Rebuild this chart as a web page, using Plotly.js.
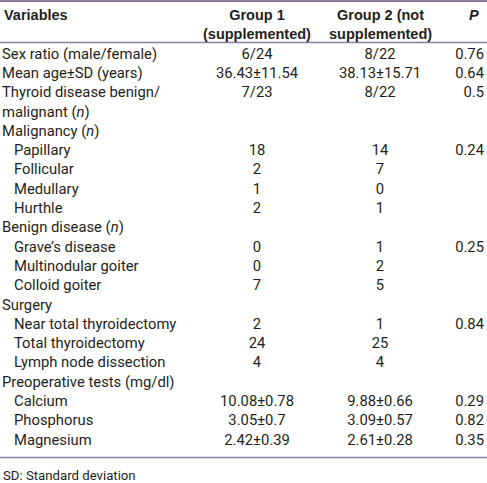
<!DOCTYPE html>
<html>
<head>
<meta charset="utf-8">
<script src="https://cdn.plot.ly/plotly-3.0.1.min.js"></script>
<style>html,body{margin:0;padding:0;background:#fff;}#chart{width:487px;height:483px;}</style>
</head>
<body>
<div id="chart"></div>
<script>
// ---- table content ----
const variables = [
  "Sex ratio (male/female)",
  "Mean age±SD (years)",
  "Thyroid disease benign/",
  "malignant (<i>n</i>)",
  "Malignancy (<i>n</i>)",
  "Papillary",
  "Follicular",
  "Medullary",
  "Hurthle",
  "Benign disease (<i>n</i>)",
  "Grave’s disease",
  "Multinodular goiter",
  "Colloid goiter",
  "Surgery",
  "Near total thyroidectomy",
  "Total thyroidectomy",
  "Lymph node dissection",
  "Preoperative tests (mg/dl)",
  "Calcium",
  "Phosphorus",
  "Magnesium"
];
const subRow = [0,0,0,0,0,1,1,1,1,0,1,1,1,0,1,1,1,0,1,1,1];
const group1 = ["6/24","36.43±11.54","7/23","","","18","2","1","2","","0","0","7","","2","24","4","","10.08±0.78","3.05±0.7","2.42±0.39"];
const group2 = ["8/22","38.13±15.71","8/22","","","14","7","0","1","","1","2","5","","1","25","4","","9.88±0.66","3.09±0.57","2.61±0.28"];
const pvals  = ["0.76","0.64","0.5","","","0.24","","","","","0.25","","","","0.84","","","","0.29","0.82","0.35"];
const headers = ["Variables", "Group 1<br>(supplemented)", "Group 2 (not<br>supplemented)", "<i>P</i>"];
const footnote = "SD: Standard deviation";

// ---- layout helpers ----
const rowIdx = variables.map((_, i) => i);
const txtColor = "#231f20";
const bodyFont = {family: "Roboto, 'Liberation Sans', sans-serif", size: 14.8, color: txtColor};
const headFont = {family: "'Liberation Sans', Arial, sans-serif", size: 14.5, color: txtColor, weight: 700};
const colX = {varMain: 2, varSub: 14, g1: 257, g2: 380, p: 484};
const lineColor = "#8c7b9c";

const traces = [
  {type: "scatter", mode: "text", x: rowIdx.map(i => subRow[i] ? colX.varSub : colX.varMain), y: rowIdx,
   text: variables, textposition: "middle right", textfont: bodyFont, hoverinfo: "skip", showlegend: false},
  {type: "scatter", mode: "text", x: rowIdx.map(() => colX.g1), y: rowIdx,
   text: group1, textposition: "middle center", textfont: bodyFont, hoverinfo: "skip", showlegend: false},
  {type: "scatter", mode: "text", x: rowIdx.map(() => colX.g2), y: rowIdx,
   text: group2, textposition: "middle center", textfont: bodyFont, hoverinfo: "skip", showlegend: false},
  {type: "scatter", mode: "text", x: rowIdx.map(() => colX.p), y: rowIdx,
   text: pvals, textposition: "middle left", textfont: bodyFont, hoverinfo: "skip", showlegend: false}
];

const rowPx = 19.3, firstRowPx = 55, H = 483;
const r0 = -firstRowPx / rowPx;
const r1 = r0 + H / rowPx;
const pxToRow = p => r0 + p / rowPx;

const annotations = [
  {x: colX.varMain, y: pxToRow(15), text: "<b>" + headers[0] + "</b>", xanchor: "left", yanchor: "middle", font: headFont},
  {x: colX.g1, y: pxToRow(24.5), text: "<b>" + headers[1] + "</b>", xanchor: "center", yanchor: "middle", font: headFont, align: "center"},
  {x: colX.g2, y: pxToRow(24.5), text: "<b>" + headers[2] + "</b>", xanchor: "center", yanchor: "middle", font: headFont, align: "center"},
  {x: colX.p - 3, y: pxToRow(15), text: "<b>" + headers[3] + "</b>", xanchor: "right", yanchor: "middle", font: headFont},
  {x: 1, y: pxToRow(475), text: footnote, xanchor: "left", yanchor: "middle",
   font: {family: "Roboto, sans-serif", size: 13.2, color: txtColor}}
].map(a => Object.assign({xref: "x", yref: "y", showarrow: false}, a));

const hline = (p, w) => ({type: "line", xref: "paper", yref: "y", x0: 0, x1: 1, y0: pxToRow(p), y1: pxToRow(p),
  line: {color: lineColor, width: w}});

const layout = {
  width: 487, height: 483,
  margin: {l: 0, r: 0, t: 0, b: 0},
  paper_bgcolor: "#fff", plot_bgcolor: "#fff",
  xaxis: {range: [0, 487], visible: false, fixedrange: true},
  yaxis: {range: [r1, r0], visible: false, fixedrange: true},
  shapes: [hline(1, 2), hline(42.5, 1.5), hline(457.5, 1.5)],
  annotations: annotations,
  showlegend: false
};

Plotly.newPlot("chart", traces, layout, {staticPlot: true, displayModeBar: false});
</script>
</body>
</html>
